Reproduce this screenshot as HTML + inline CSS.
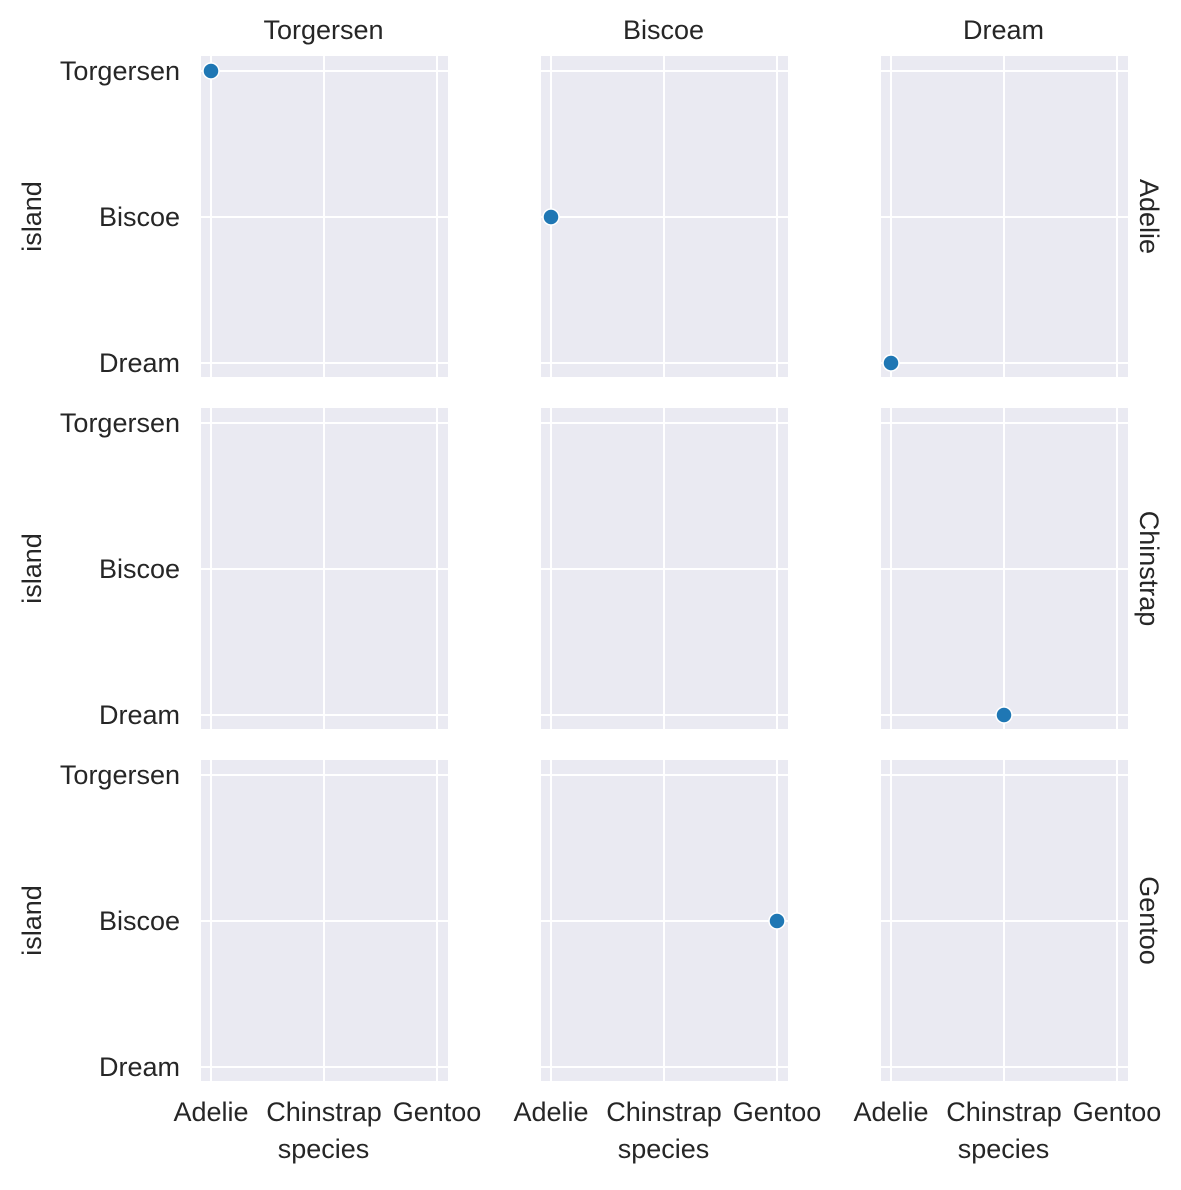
<!DOCTYPE html>
<html><head><meta charset="utf-8">
<style>
body{margin:0;background:#fff;font-family:"Liberation Sans",sans-serif;}
svg text{font-family:"Liberation Sans",sans-serif;fill:#262626;}
</style></head>
<body>
<svg id="chart" width="1181" height="1185" xmlns="http://www.w3.org/2000/svg"></svg>
<script>
const speciesCats = ["Adelie","Chinstrap","Gentoo"];
const islandCats = ["Torgersen","Biscoe","Dream"];
const colIslands = ["Torgersen","Biscoe","Dream"];
const rowSpecies = ["Adelie","Chinstrap","Gentoo"];
const pointRow = ["Adelie","Adelie","Adelie","Chinstrap","Gentoo"];
const pointCol = ["Torgersen","Biscoe","Dream","Dream","Biscoe"];
const pointX = ["Adelie","Adelie","Adelie","Chinstrap","Gentoo"];
const pointY = ["Torgersen","Biscoe","Dream","Dream","Biscoe"];

const svg = document.getElementById('chart');
const NS = "http://www.w3.org/2000/svg";
const FS = 27;
function mk(tag, attrs, txt){const e=document.createElementNS(NS,tag);for(const k in attrs)e.setAttribute(k,attrs[k]);if(txt!==undefined)e.textContent=txt;svg.appendChild(e);return e;}
const panelLeft=[201,541,881], panelTop=[56,408,760], PW=247, PH=321;
function xScale(c,s){return panelLeft[c]+10+speciesCats.indexOf(s)*113;}
function yScale(r,i){return panelTop[r]+15+islandCats.indexOf(i)*146;}

for(let r=0;r<3;r++){for(let c=0;c<3;c++){
  const bg=mk('rect',{x:panelLeft[c],y:panelTop[r],width:PW,height:PH,fill:'#eaeaf2'});
  
  
  speciesCats.forEach(s=>{const x=xScale(c,s);const l=mk('line',{x1:x,x2:x,y1:panelTop[r],y2:panelTop[r]+PH,stroke:'#fff','stroke-width':2});
    });
  islandCats.forEach(i=>{const y=yScale(r,i);const l=mk('line',{x1:panelLeft[c],x2:panelLeft[c]+PW,y1:y,y2:y,stroke:'#fff','stroke-width':2});
    });
  if(c===0){islandCats.forEach(i=>{const t=mk('text',{x:180,y:yScale(r,i)+9,'text-anchor':'end','font-size':FS},i);
    });
    const cy=panelTop[r]+PH/2;
    const t=mk('text',{x:0,y:0,'text-anchor':'middle','font-size':FS,transform:'translate(41,'+cy+') rotate(-90)'},'island');
    }
  if(r===2){speciesCats.forEach(s=>{const t=mk('text',{x:xScale(c,s),y:1121,'text-anchor':'middle','font-size':FS},s);
    });
    const t=mk('text',{x:panelLeft[c]+PW/2-1,y:1158,'text-anchor':'middle','font-size':FS},'species');
    }
  if(r===0){const t=mk('text',{x:panelLeft[c]+PW/2-1,y:39,'text-anchor':'middle','font-size':FS},colIslands[c]);
    }
  if(c===2){const cy=panelTop[r]+PH/2;
    const t=mk('text',{x:0,y:0,'text-anchor':'middle','font-size':FS,transform:'translate(1140,'+cy+') rotate(90)'},rowSpecies[r]);
    }
}}
for(let k=0;k<pointRow.length;k++){
  const r=rowSpecies.indexOf(pointRow[k]), c=colIslands.indexOf(pointCol[k]);
  const p=mk('circle',{cx:xScale(c,pointX[k]),cy:yScale(r,pointY[k]),r:8,fill:'#1f77b4',stroke:'#fff','stroke-width':1.5});
  
  
}
</script>
</body></html>
